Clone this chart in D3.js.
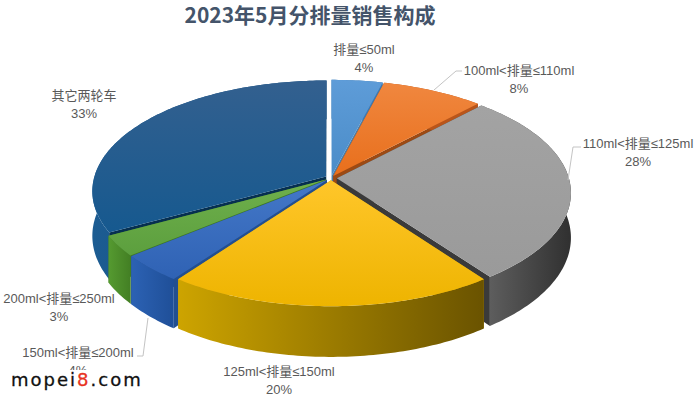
<!DOCTYPE html>
<html><head><meta charset="utf-8">
<script src="https://cdn.jsdelivr.net/npm/d3@7"></script>
<style>html,body{margin:0;padding:0;background:#fff}svg{display:block}</style>
</head><body><svg id="c" width="700" height="402"></svg>
<script>
const titleText = "2023年5月分排量销售构成";
const categories = ["排量≤50ml","100ml<排量≤110ml","110ml<排量≤125ml","125ml<排量≤150ml","150ml<排量≤200ml","200ml<排量≤250ml","其它两轮车"];
const values = [4,8,28,20,4,3,33];
const labelX = [364,519,638,279,78,59,84];
const labelY = [54,75,148,376,357,303,100];
const explodes = [0.02,0.02,0.025,0.02,0.025,0.025,0.025];
const leaders = [[], [[462,71],[456,71],[434,90]], [[581,147],[573,147],[568,180]], [], [[137,356],[143,356],[148,318]], [], []];
const topColors = [["#5e9cd8","#4a8cc8"],["#f0873f","#e86f1c"],["#a3a3a3","#9a9a9a"],["#ffc62a","#eeb400"],["#4478c8","#2f62b4"],["#6fb04c","#5c9f3e"],["#33608f","#16598f"]];
const sideColors = [["#3d78b0","#3d78b0"],["#b9551a","#b9551a"],["#626262","#303030"],["#cda400","#6a5300"],["#2c62b4","#1f4f98"],["#559a30","#437f24"],["#1c5c92","#12497a"]];
const wallColors = ["#4a7da8","#9c4a14","#3a3a3a","#c99c10","#234f90","#3f7a25","#062f50"];

const W = 700, H = 402;
const svg = d3.select("#c").attr("viewBox",[0,0,W,H]);
const defs = svg.append("defs");
const cx = 331, cy = 178, rx = 232, ry = 109, depth = 44, persp = 0.13;

const arcs = d3.pie().sort(null).value(d=>d)(values);
function project(ux, uy, down){
  const s = 1/(1-persp*uy);
  return [cx+rx*ux*s, cy+ry*uy*s+(down?depth*s:0)];
}
const line = d3.line();
function grad(id, cols, vertical){
  const g = defs.append("linearGradient").attr("id",id)
    .attr("x1","0").attr("y1","0").attr("x2",vertical?"0":"1").attr("y2",vertical?"1":"0");
  g.append("stop").attr("offset","0").attr("stop-color",cols[0]);
  g.append("stop").attr("offset","1").attr("stop-color",cols[1]);
  return `url(#${id})`;
}
const shapes = arcs.map((a,i)=>{
  const mid=(a.startAngle+a.endAngle)/2;
  const ox=Math.sin(mid)*explodes[i], oy=-Math.cos(mid)*explodes[i];
  const n=Math.max(8,Math.round((a.endAngle-a.startAngle)*60));
  const rim=d3.range(n+1).map(k=>{
    const t=a.startAngle+(a.endAngle-a.startAngle)*k/n;
    return [ox+Math.sin(t), oy-Math.cos(t)];
  });
  return {i,mid,ox,oy,rim,order:oy-Math.cos(mid)};
});
shapes.sort((p,q)=>p.order-q.order);
const g = svg.append("g");
shapes.forEach(s=>{
  const top=s.rim.map(p=>project(p[0],p[1],false));
  const bot=s.rim.map(p=>project(p[0],p[1],true));
  const apex=project(s.ox,s.oy,false), apexB=project(s.ox,s.oy,true);
  const wall=[[apex,top[0],bot[0],apexB],[apex,top[top.length-1],bot[bot.length-1],apexB]];
  wall.forEach(w=>g.append("path").attr("d",line(w)+"Z").attr("fill",wallColors[s.i]));
  g.append("path").attr("d",line(top.concat(bot.slice().reverse()))+"Z")
    .attr("fill",grad("side"+s.i,sideColors[s.i],false));
  g.append("path").attr("d",line([apex].concat(top))+"Z")
    .attr("fill",grad("top"+s.i,topColors[s.i],true));
});

const ink="#595959";
leaders.forEach(l=>{ if(l.length) svg.append("path").attr("d",line(l)).attr("fill","none").attr("stroke","#c4c4c4").attr("stroke-width",1); });
const font="'Liberation Sans','Noto Sans CJK SC',sans-serif";
categories.forEach((c,i)=>{
  svg.append("text").attr("x",labelX[i]).attr("y",labelY[i]).attr("text-anchor","middle")
    .attr("font-family",font).attr("font-size",13).attr("fill",ink).text(c);
  svg.append("text").attr("x",labelX[i]).attr("y",labelY[i]+18).attr("text-anchor","middle")
    .attr("font-family",font).attr("font-size",13).attr("fill",ink).text(values[i]+"%");
});
svg.append("text").attr("x",310).attr("y",23).attr("text-anchor","middle")
  .attr("font-family","'Noto Sans CJK SC',sans-serif").attr("font-size",21).attr("font-weight",700).attr("fill","#44546a").text(titleText);

svg.append("rect").attr("x",8).attr("y",370).attr("width",140).attr("height",26).attr("fill","#fff");
const wm=svg.append("text").attr("x",11).attr("y",386).attr("font-family","'DejaVu Sans',sans-serif")
  .attr("font-size",18).attr("letter-spacing",2).attr("fill","#111").attr("stroke","#111").attr("stroke-width",0.3);
wm.append("tspan").text("mopei");
wm.append("tspan").attr("fill","#e8321e").attr("stroke","#e8321e").text("8");
wm.append("tspan").text(".com");
</script></body></html>
